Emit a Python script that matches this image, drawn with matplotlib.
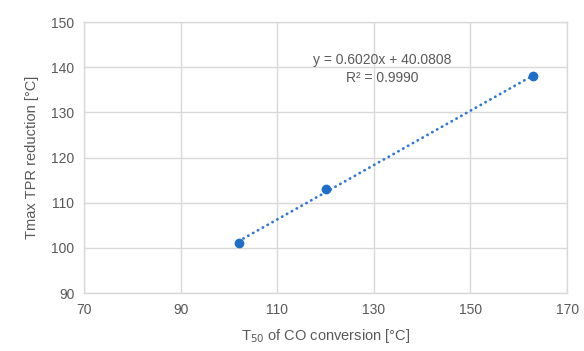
import numpy as np
from matplotlib import pyplot as plt

# data
t50_co = [102, 120, 163]
tmax_tpr = [101, 113, 138]
slope = 0.6020
intercept = 40.0808
r2 = 0.9990
xticks = [70, 90, 110, 130, 150, 170]
yticks = [90, 100, 110, 120, 130, 140, 150]

plt.rcParams['font.family'] = ['Liberation Sans', 'DejaVu Sans']
txt = '#595959'
grid = '#d9d9d9'
blue = '#1f6fc8'

fig = plt.figure(figsize=(5.84, 3.51), dpi=100)
ax = fig.add_axes([0.1438, 0.165, 0.8272, 0.772])

# trendline
xl = np.array([min(t50_co), max(t50_co)])
ax.plot(xl, slope * xl + intercept, color='#2e78d8', lw=2, ls=(0, (0.1, 1.9)),
        dash_capstyle='round', zorder=2)
ax.plot(t50_co, tmax_tpr, 'o', color=blue, ms=6, zorder=3)

ax.set_xlim(xticks[0], xticks[-1])
ax.set_ylim(yticks[0], yticks[-1])
ax.set_xticks(xticks)
ax.set_yticks(yticks)
ax.grid(True, color=grid, lw=1)
ax.set_axisbelow(True)
for s in ax.spines.values():
    s.set_color(grid)
    s.set_linewidth(1)
ax.tick_params(length=0, colors=txt, labelsize=10, pad=7)

ax.text(131.7, 141.6, 'y = %.4fx + %.4f' % (slope, intercept), ha='center', va='center',
        color=txt, fontsize=10)
ax.text(131.7, 137.6, 'R² = %.4f' % r2, ha='center', va='center', color=txt, fontsize=10)

ax.set_xlabel('T$_{50}$ of CO conversion [°C]', color=txt, fontsize=10.5, labelpad=7)
ax.set_ylabel('Tmax TPR reduction [°C]', color=txt, fontsize=10.5, labelpad=9)

fig.savefig('out.png', dpi=100)
